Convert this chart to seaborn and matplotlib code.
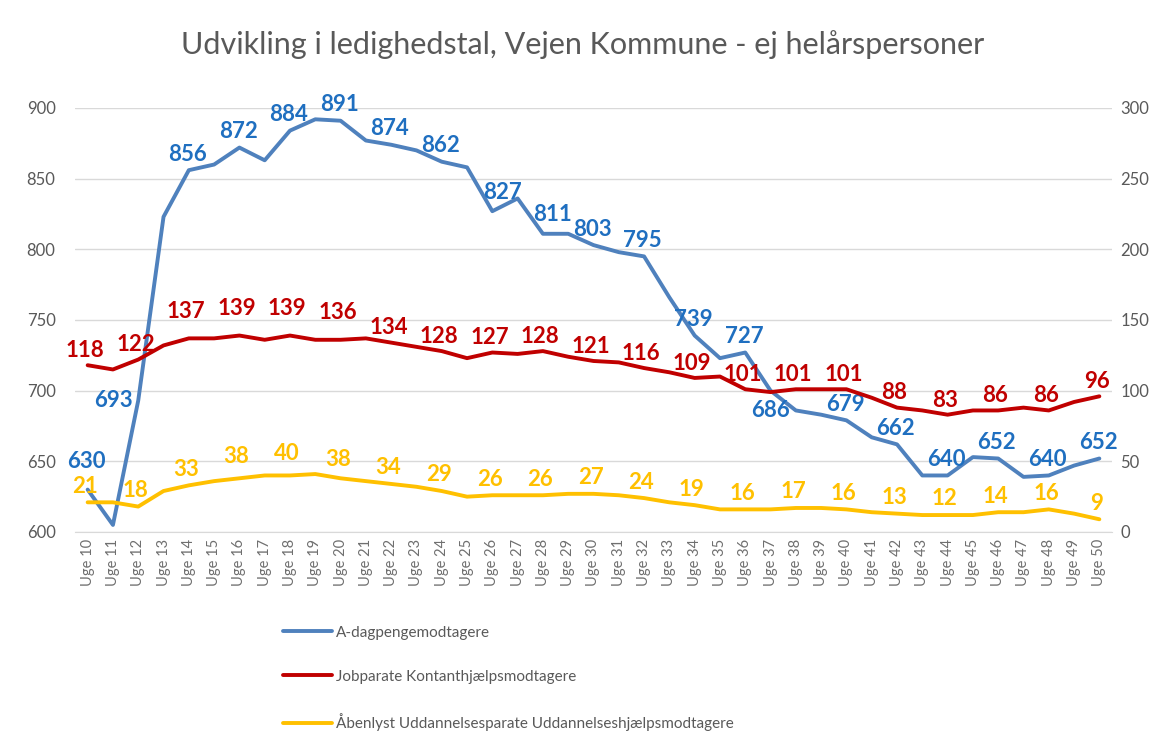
import pandas as pd
import seaborn as sns
import matplotlib.pyplot as plt

# uge-numre
uger = list(range(10, 51))

# A-dagpengemodtagere (venstre akse)
a_dagpenge = [630, 605, 693, 823, 856, 860, 872, 863, 884, 892, 891, 877, 874, 870,
              862, 858, 827, 836, 811, 811, 803, 798, 795, 766, 739, 723, 727, 700,
              686, 683, 679, 667, 662, 640, 640, 653, 652, 639, 640, 647, 652]

# Jobparate kontanthjaelpsmodtagere (hoejre akse)
kontant = [118, 115, 122, 132, 137, 137, 139, 136, 139, 136, 136, 137, 134, 131,
           128, 123, 127, 126, 128, 124, 121, 120, 116, 113, 109, 110, 101, 99,
           101, 101, 101, 95, 88, 86, 83, 86, 86, 88, 86, 92, 96]

# Uddannelseshjaelpsmodtagere (hoejre akse)
uddannelse = [21, 21, 18, 29, 33, 36, 38, 40, 40, 41, 38, 36, 34, 32,
              29, 25, 26, 26, 26, 27, 27, 26, 24, 21, 19, 16, 16, 16,
              17, 17, 16, 14, 13, 12, 12, 12, 14, 14, 16, 13, 9]

navne = ["A-dagpengemodtagere",
         "Jobparate Kontanthjælpsmodtagere",
         "Åbenlyst Uddannelsesparate Uddannelseshjælpsmodtagere"]

df = pd.DataFrame({"uge": uger, "a": a_dagpenge, "k": kontant, "u": uddannelse})

sns.set_style("white")
plt.rcParams['font.family'] = ['Lato', 'DejaVu Sans']

blaa_linje = "#4F81BD"
blaa_tekst = "#1F6FC0"
roed = "#C00000"
gul = "#FFC000"
graa = "#595959"

fig = plt.figure(figsize=(11.65, 7.4), dpi=100)
ax = fig.add_axes([75/1165, 1-532/740, (1112-75)/1165, (532-108)/740])
ax2 = ax.twinx()

sns.lineplot(data=df, x="uge", y="a", ax=ax, color=blaa_linje, linewidth=2.8, label=navne[0], legend=False)
sns.lineplot(data=df, x="uge", y="k", ax=ax2, color=roed, linewidth=2.8, label=navne[1], legend=False)
sns.lineplot(data=df, x="uge", y="u", ax=ax2, color=gul, linewidth=2.8, label=navne[2], legend=False)

ax.set_ylim(600, 900)
ax2.set_ylim(0, 300)
ax.set_xlim(9.5, 50.5)
ax.set_yticks(range(600, 901, 50))
ax2.set_yticks(range(0, 301, 50))
ax.yaxis.grid(True, color="#D9D9D9", linewidth=1)
ax.set_axisbelow(True)
ax.set_xticks(uger)
ax.set_xticklabels([f"Uge {u}" for u in uger], rotation=90, fontsize=10.5, color="#6f6f6f")
ax.tick_params(axis="y", labelsize=12, labelcolor=graa, length=0, pad=14)
ax2.tick_params(axis="y", labelsize=12, labelcolor=graa, length=0, pad=6)
ax.tick_params(axis="x", length=0, pad=5)
ax.set_xlabel("")
ax.set_ylabel("")
ax2.set_ylabel("")
for a in (ax, ax2):
    for s in a.spines.values():
        s.set_visible(False)
ax.spines["bottom"].set_visible(True)
ax.spines["bottom"].set_color("#D9D9D9")

# ekstra flyt af enkelte labels (som i Excel-diagrammet)
loeft_a = {0: 9, 16: 2, 18: 2}
skub_a = {16: 8, 18: 8}
loeft_k = {4: 9, 6: 9, 8: 9, 10: 9}
loeft_u = {6: 4, 8: 4, 10: 2}

# datalabels paa hver anden uge
for i in range(0, len(uger), 2):
    u = uger[i]
    if i in (2, 28):
        ax.annotate(str(a_dagpenge[i]), (u, a_dagpenge[i]), xytext=(-4, 0), textcoords="offset points",
                    ha="right", va="center", color=blaa_tekst, fontsize=16, fontweight="bold")
    else:
        ax.annotate(str(a_dagpenge[i]), (u, a_dagpenge[i]),
                    xytext=(-1 + skub_a.get(i, 0), 4 + loeft_a.get(i, 0)),
                    textcoords="offset points", ha="center", va="bottom",
                    color=blaa_tekst, fontsize=16, fontweight="bold")
    ax2.annotate(str(kontant[i]), (u, kontant[i]), xytext=(-2, 3 + loeft_k.get(i, 0)),
                 textcoords="offset points", ha="center", va="bottom",
                 color=roed, fontsize=16, fontweight="bold")
    ax2.annotate(str(uddannelse[i]), (u, uddannelse[i]), xytext=(-2, 4 + loeft_u.get(i, 0)),
                 textcoords="offset points", ha="center", va="bottom",
                 color=gul, fontsize=16, fontweight="bold")

fig.text(0.5, 1-45/740, "Udvikling i ledighedstal, Vejen Kommune - ej helårspersoner",
         ha="center", va="center", fontsize=22, color=graa)

h1, l1 = ax.get_legend_handles_labels()
h2, l2 = ax2.get_legend_handles_labels()
fig.legend(h1 + h2, l1 + l2, loc="upper left", bbox_to_anchor=(269/1165, 1-612/740),
           frameon=False, ncol=1, fontsize=11, labelcolor=graa, handlelength=3.2,
           labelspacing=1.95, handletextpad=0.3)

fig.savefig("out.png", dpi=100)
